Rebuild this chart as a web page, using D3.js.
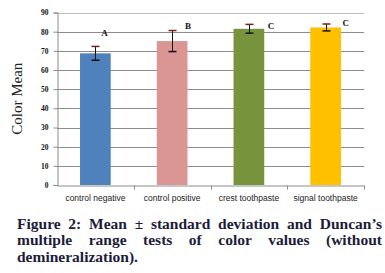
<!DOCTYPE html>
<html>
<head>
<meta charset="utf-8">
<script src="https://cdn.jsdelivr.net/npm/d3@7"></script>
<style>
  html, body { margin: 0; padding: 0; background: #fff; }
  #wrap { position: relative; width: 385px; height: 273px; overflow: hidden; }
  #chart { position: absolute; left: 0; top: 0; }
  #caption {
    position: absolute; left: 17px; top: 215.5px; width: 365px;
    font-family: "Liberation Serif", serif; font-weight: bold;
    font-size: 15.5px; line-height: 16.5px; color: #1c1c3a;
  }
  #caption span { display: block; text-align: justify; text-align-last: justify; white-space: nowrap; }
  #caption span.last { text-align-last: left; }
</style>
</head>
<body>
<div id="wrap">
  <svg id="chart" width="385" height="210"></svg>
  <div id="caption"></div>
</div>
<script>
  const categories = ['control negative', 'control positive', 'crest toothpaste', 'signal toothpaste'];
  const means = [68.7, 75.1, 81.5, 82.2];
  const deviations = [3.6, 5.5, 2.3, 1.8];
  const groupLetters = ['A', 'B', 'C', 'C'];
  const letterLevels = [79.5, 83, 83, 84.6];
  const yTicks = [0, 10, 20, 30, 40, 50, 60, 70, 80, 90];
  const captionLines = [
    'Figure 2: Mean \u00b1 standard deviation and Duncan\u2019s',
    'multiple range tests of color values (without',
    'demineralization).',
  ];

  const COLORS = ['#4f81bd', '#d99694', '#77933c', '#ffc000'];
  const letterDx = [9, 16, 22, 20];

  const svg = d3.select('#chart');
  const margin = { top: 12.5, right: 21, bottom: 25, left: 57 };
  const width = 385;
  const height = 210;

  const x = d3.scaleBand().domain(categories).range([margin.left, width - margin.right]);
  const y = d3.scaleLinear().domain([0, 90]).range([height - margin.bottom, margin.top]);
  const barWidth = x.bandwidth() * 0.4;

  // gridlines
  svg.append('g')
    .selectAll('line')
    .data(yTicks.filter((t) => t > 0))
    .enter()
    .append('line')
    .attr('x1', margin.left)
    .attr('x2', width - margin.right)
    .attr('y1', (t) => Math.round(y(t)) + 0.5)
    .attr('y2', (t) => Math.round(y(t)) + 0.5)
    .attr('stroke', (t) => (t === 90 ? '#bdbdbd' : '#8c8c8c'))
    .attr('stroke-width', 1);

  // bars
  svg.append('g')
    .selectAll('rect')
    .data(categories)
    .enter()
    .append('rect')
    .attr('x', (c) => x(c) + (x.bandwidth() - barWidth) / 2)
    .attr('y', (c, i) => y(means[i]))
    .attr('width', barWidth)
    .attr('height', (c, i) => y(0) - y(means[i]))
    .attr('fill', (c, i) => COLORS[i]);

  // error bars
  const err = svg.append('g').attr('stroke', '#111').attr('stroke-width', 1);
  categories.forEach((c, i) => {
    const cx = Math.round(x(c) + x.bandwidth() / 2) + 0.5;
    const top = y(means[i] + deviations[i]);
    const bottom = y(means[i] - deviations[i]);
    err.append('line').attr('x1', cx).attr('x2', cx).attr('y1', top).attr('y2', bottom);
    err.append('line').attr('x1', cx - 4).attr('x2', cx + 4).attr('y1', top).attr('y2', top)
      .attr('stroke', '#7a2020').attr('stroke-width', 1.5);
    err.append('line').attr('x1', cx - 4).attr('x2', cx + 4).attr('y1', bottom).attr('y2', bottom)
      .attr('stroke-width', 1.5);
  });

  // group letters
  svg.append('g')
    .selectAll('text')
    .data(groupLetters)
    .enter()
    .append('text')
    .attr('x', (l, i) => x(categories[i]) + x.bandwidth() / 2 + letterDx[i])
    .attr('y', (l, i) => y(letterLevels[i]))
    .attr('dy', '0.35em')
    .attr('text-anchor', 'middle')
    .attr('font-family', 'Liberation Serif, serif')
    .attr('font-weight', 'bold')
    .attr('font-size', 9)
    .attr('fill', '#111')
    .text((l) => l);

  // y axis
  const yAxis = svg.append('g')
    .attr('transform', `translate(${margin.left + 0.5},0)`)
    .call(d3.axisLeft(y).tickValues(yTicks).tickSize(4).tickFormat(d3.format('d')));
  yAxis.select('.domain').attr('stroke', '#8c8c8c');
  yAxis.selectAll('.tick line').attr('stroke', '#8c8c8c');
  yAxis.selectAll('.tick text')
    .attr('x', -9)
    .attr('font-family', 'Liberation Serif, serif')
    .attr('font-weight', 'bold')
    .attr('font-size', 7.5)
    .attr('fill', '#111');

  // x axis
  const xAxis = svg.append('g')
    .attr('transform', `translate(0,${Math.round(y(0)) + 0.5})`)
    .call(d3.axisBottom(x).tickSize(0).tickPadding(9));
  xAxis.select('.domain').attr('stroke', '#8c8c8c');
  xAxis.selectAll('.tick text')
    .attr('font-family', 'Liberation Sans Narrow, Liberation Sans, sans-serif')
    .attr('font-size', 8.5)
    .attr('fill', '#222');
  xAxis.append('g')
    .selectAll('line')
    .data(categories)
    .enter()
    .append('line')
    .attr('x1', (c) => Math.round(x(c) + x.bandwidth()) + 0.5)
    .attr('x2', (c) => Math.round(x(c) + x.bandwidth()) + 0.5)
    .attr('y1', 0)
    .attr('y2', 4)
    .attr('stroke', '#8c8c8c');

  // y title
  svg.append('text')
    .attr('transform', `translate(22,${(y(0) + y(90)) / 2}) rotate(-90)`)
    .attr('text-anchor', 'middle')
    .attr('font-family', 'Liberation Serif, serif')
    .attr('font-size', 15)
    .attr('fill', '#222')
    .text('Color Mean');

  // caption
  const caption = d3.select('#caption');
  captionLines.forEach((line, i) => {
    caption.append('span')
      .attr('class', i === captionLines.length - 1 ? 'last' : null)
      .text(line);
  });
</script>
</body>
</html>
